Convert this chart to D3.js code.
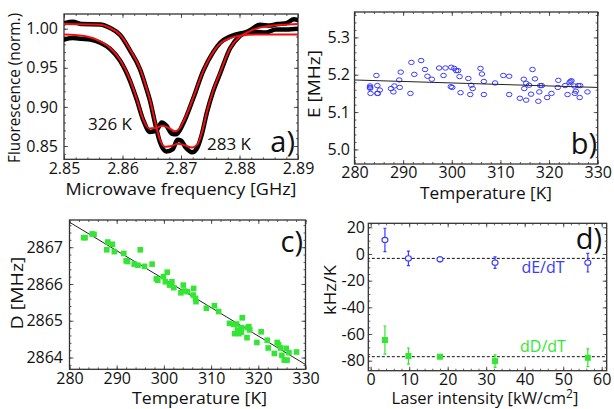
<!DOCTYPE html>
<html>
<head>
<meta charset="utf-8">
<script src="https://cdn.jsdelivr.net/npm/d3@7"></script>
<style>
body { margin: 0; background: #fff; }
svg text { font-family: "Open Sans", sans-serif; fill: #111; }
</style>
</head>
<body>
<script>
// a) ODMR spectra, [frequency GHz, normalised fluorescence]
const data283 = [[2.850,1.007],[2.8515,1.009],[2.853,1.006],[2.8562,1.0055],[2.8579,1.001],[2.8596,0.992],[2.8613,0.972],[2.8630,0.948],[2.8641,0.923],[2.8647,0.908],[2.8656,0.878],[2.8664,0.855],[2.8675,0.843],[2.8686,0.846],[2.8694,0.858],[2.8700,0.857],[2.8708,0.848],[2.8719,0.842],[2.8728,0.848],[2.8736,0.866],[2.8744,0.892],[2.8755,0.920],[2.8767,0.943],[2.8784,0.975],[2.8801,0.991],[2.8818,0.998],[2.8835,1.005],[2.8852,1.004],[2.8865,1.006],[2.8880,1.007],[2.8893,1.012],[2.890,1.011]];
const fit283 = [[2.850,1.006],[2.8562,1.0051],[2.8579,1.0009],[2.8596,0.9923],[2.8613,0.9731],[2.8630,0.949],[2.8641,0.924],[2.8647,0.909],[2.8656,0.880],[2.8664,0.858],[2.8673,0.849],[2.8684,0.850],[2.8695,0.853],[2.8706,0.851],[2.8719,0.848],[2.8728,0.852],[2.8736,0.868],[2.8744,0.893],[2.8755,0.921],[2.8767,0.944],[2.8784,0.975],[2.8801,0.990],[2.8818,0.997],[2.8847,1.003],[2.890,1.006]];
const data326 = [[2.850,0.986],[2.8515,0.988],[2.853,0.987],[2.8545,0.986],[2.8562,0.982],[2.8579,0.974],[2.8596,0.959],[2.8613,0.933],[2.8624,0.910],[2.8636,0.882],[2.8647,0.868],[2.8658,0.870],[2.8667,0.880],[2.8675,0.876],[2.8684,0.866],[2.8692,0.865],[2.8704,0.879],[2.8721,0.911],[2.8738,0.946],[2.8755,0.970],[2.8767,0.982],[2.8784,0.990],[2.8801,0.994],[2.8825,0.996],[2.8845,0.995],[2.8862,0.999],[2.8880,0.999],[2.890,1.000]];
const fit326 = [[2.850,0.9925],[2.8539,0.990],[2.8562,0.9838],[2.8579,0.9752],[2.8596,0.960],[2.8613,0.9346],[2.8624,0.911],[2.8636,0.883],[2.8645,0.8725],[2.8657,0.873],[2.8668,0.876],[2.8679,0.873],[2.8690,0.869],[2.8697,0.872],[2.8704,0.881],[2.8721,0.912],[2.8738,0.946],[2.8755,0.970],[2.8767,0.981],[2.8784,0.988],[2.8801,0.991],[2.883,0.9925],[2.890,0.9925]];

// b) E splitting vs temperature
const tempE = [283.2,283.2,283.3,283.2,284.5,284.7,284.7,284.8,285.2,287.5,288.0,288.2,289.2,289.3,289.5,291.5,291.7,292.3,293.7,294.5,295.0,295.9,297.4,298.3,298.7,299.9,299.8,300.1,300.5,300.9,301.3,301.6,301.8,303.4,303.8,304.0,304.3,305.9,306.2,306.6,306.6,308.9,310.6,311.8,311.8,314.0,314.8,314.9,315.3,315.3,315.9,316.3,316.6,317.1,317.8,318.2,318.5,318.0,319.6,320.5,321.9,321.8,323.3,323.8,324.2,324.4,324.6,325.2,325.3,325.5,326.0,326.4,326.3,327.9];
const valE = [5.166,5.170,5.150,5.164,5.198,5.171,5.150,5.150,5.159,5.163,5.154,5.170,5.186,5.166,5.207,5.150,5.233,5.201,5.238,5.214,5.196,5.188,5.218,5.198,5.218,5.220,5.168,5.166,5.217,5.211,5.211,5.195,5.152,5.190,5.147,5.172,5.163,5.217,5.202,5.182,5.147,5.178,5.198,5.196,5.147,5.137,5.188,5.163,5.132,5.177,5.172,5.148,5.214,5.189,5.129,5.171,5.171,5.154,5.139,5.150,5.185,5.166,5.171,5.147,5.179,5.182,5.184,5.170,5.150,5.156,5.171,5.171,5.139,5.154];
const fitE = [[280,5.186],[330,5.166]];

// c) D splitting vs temperature
const tempD = [283.0,283.3,284.8,285.2,288.1,287.9,289.1,289.5,291.5,292.0,292.3,293.7,294.5,295.0,295.9,297.5,298.4,298.7,299.9,300.3,300.7,301.2,301.7,302.1,303.6,304.1,304.3,305.0,306.2,306.3,306.7,306.8,309.0,310.7,311.6,313.9,314.8,315.0,315.4,315.6,315.9,316.4,316.6,316.5,317.6,317.8,318.0,318.2,320.6,319.7,321.9,322.1,324.0,323.4,324.3,324.7,325.0,325.5,326.1,325.9,326.5,328.1];
const valD = [2867.26,2867.26,2867.36,2867.35,2867.14,2866.93,2867.08,2866.88,2866.83,2866.63,2866.61,2866.54,2866.51,2866.93,2866.48,2866.54,2866.14,2866.10,2866.20,2866.06,2866.32,2865.97,2866.06,2865.90,2865.76,2865.97,2865.81,2865.79,2865.70,2865.88,2865.61,2865.52,2865.34,2865.41,2865.25,2864.93,2864.90,2864.65,2864.91,2864.75,2864.65,2864.69,2865.08,2864.81,2864.54,2864.81,2864.84,2864.75,2864.70,2864.41,2864.47,2864.26,2864.41,2864.11,2864.35,2864.26,2864.06,2863.93,2863.93,2864.25,2864.13,2864.15];
const fitD = [[280,2867.68],[330,2863.81]];

// d) slopes vs laser intensity
const intensity = [3.7, 9.8, 18.0, 32.3, 56.4];
const dEdT = [10.5, -3.3, -4.0, -6.5, -6.5];
const dEdTerr = [8.8, 5.5, 1.8, 4.3, 7.0];
const dDdT = [-64.5, -76.5, -77.0, -80.3, -77.8];
const dDdTerr = [10.5, 6.0, 1.5, 4.7, 6.6];
const meanE = -3.3, meanD = -77;

const blue = "#3a3aff", green = "#33e633";

const svg = d3.select("body").append("svg")
    .attr("width", 614)
    .attr("height", 409);

const steps = (lo, hi, s) => d3.range(Math.round((hi - lo) / s) + 1).map(i => +(lo + i * s).toFixed(6));

// frame with inward ticks on all four sides, labels bottom + left
function panel(box, xd, yd, o) {
  const x = d3.scaleLinear().domain(xd).range([box.l, box.r]);
  const y = d3.scaleLinear().domain(yd).range([box.b, box.t]);
  const g = svg.append("g");
  const ax = (gen, tr) => g.append("g").attr("transform", tr).call(gen)
      .call(s => s.select(".domain").remove());
  const fmt = o.fmt || (d => String(d));
  ax(d3.axisBottom(x).tickValues(o.xMaj).tickSize(-4).tickPadding(3).tickFormat(o.xFmt || fmt), `translate(0,${box.b})`);
  ax(d3.axisBottom(x).tickValues(o.xMin).tickSize(-2).tickFormat(""), `translate(0,${box.b})`);
  ax(d3.axisTop(x).tickValues(o.xMaj).tickSize(-4).tickFormat(""), `translate(0,${box.t})`);
  ax(d3.axisTop(x).tickValues(o.xMin).tickSize(-2).tickFormat(""), `translate(0,${box.t})`);
  ax(d3.axisLeft(y).tickValues(o.yMaj).tickSize(-4).tickPadding(o.yPad).tickFormat(o.yFmt || fmt), `translate(${box.l},0)`);
  ax(d3.axisLeft(y).tickValues(o.yMin).tickSize(-2).tickFormat(""), `translate(${box.l},0)`);
  ax(d3.axisRight(y).tickValues(o.yMaj).tickSize(-4).tickFormat(""), `translate(${box.r},0)`);
  ax(d3.axisRight(y).tickValues(o.yMin).tickSize(-2).tickFormat(""), `translate(${box.r},0)`);
  g.selectAll(".tick line").attr("stroke", "#333").attr("stroke-width", 0.8);
  g.selectAll(".tick text").attr("font-family", null).attr("font-size", 16).style("fill", "#111");
  g.append("rect")
      .attr("x", box.l).attr("y", box.t)
      .attr("width", box.r - box.l).attr("height", box.b - box.t)
      .attr("fill", "none").attr("stroke", "#333").attr("stroke-width", 1.3);
  const id = "clip" + Math.random().toString(36).slice(2);
  svg.append("clipPath").attr("id", id).append("rect")
      .attr("x", box.l).attr("y", box.t)
      .attr("width", box.r - box.l).attr("height", box.b - box.t);
  const plot = svg.append("g").attr("clip-path", `url(#${id})`);
  // axis titles
  if (o.xTitle) {
    svg.append("text").attr("x", o.xt[0]).attr("y", o.xt[1])
        .attr("text-anchor", "middle").attr("font-size", 16.5)
        .attr("textLength", o.xt[2]).attr("lengthAdjust", "spacingAndGlyphs")
        .text(o.xTitle);
  }
  svg.append("text").attr("transform", `translate(${o.yt[0]},${o.yt[1]}) rotate(-90)`)
      .attr("text-anchor", "middle").attr("font-size", 16.5)
      .attr("textLength", o.yt[2]).attr("lengthAdjust", "spacingAndGlyphs")
      .text(o.yTitle);
  svg.append("text").attr("x", o.tag[0]).attr("y", o.tag[1])
      .attr("text-anchor", "end").attr("font-size", 29)
      .text(o.tagText);
  return {x, y, plot};
}

// ---------- a)
const A = panel({l: 64, r: 298, t: 14, b: 159.3}, [2.85, 2.89], [0.833, 1.0188], {
  xMaj: steps(2.85, 2.89, 0.01), xMin: steps(2.85, 2.89, 0.002), xFmt: d3.format(".2f"),
  yMaj: [0.85, 0.90, 0.95, 1.00], yMin: steps(0.84, 1.01, 0.01), yFmt: d3.format(".2f"), yPad: 6,
  xTitle: "Microwave frequency [GHz]", xt: [181, 195, 231],
  yTitle: "Fluorescence (norm.)", yt: [19.5, 88, 150],
  tagText: "a)", tag: [295, 152]
});
const lineA = d3.line().x(d => A.x(d[0])).y(d => A.y(d[1])).curve(d3.curveMonotoneX);
[data283, data326].forEach(d => {
  A.plot.append("path").datum(d).attr("d", lineA)
      .attr("fill", "none").attr("stroke", "#000").attr("stroke-width", 4.5)
      .attr("stroke-linejoin", "round").attr("stroke-linecap", "round");
});
[fit283, fit326].forEach(d => {
  A.plot.append("path").datum(d).attr("d", lineA)
      .attr("fill", "none").attr("stroke", "#ee1010").attr("stroke-width", 2);
});
svg.append("text").attr("x", 88).attr("y", 130).attr("font-size", 17).text("326 K");
svg.append("text").attr("x", 207).attr("y", 150).attr("font-size", 17).text("283 K");

// ---------- b)
const B = panel({l: 354.5, r: 597.7, t: 12, b: 164}, [280, 330], [4.961, 5.368], {
  xMaj: steps(280, 330, 10), xMin: steps(280, 330, 2),
  yMaj: [5.0, 5.1, 5.2, 5.3], yMin: steps(4.98, 5.36, 0.02), yFmt: d3.format(".1f"), yPad: 4.5,
  xTitle: "Temperature [K]", xt: [486, 199, 132],
  yTitle: "E [MHz]", yt: [320, 84, 68],
  tagText: "b)", tag: [597, 154]
});
B.plot.selectAll("ellipse").data(tempE).enter().append("ellipse")
    .attr("cx", d => B.x(d))
    .attr("cy", (d, i) => B.y(valE[i]))
    .attr("rx", 2.8).attr("ry", 2.2)
    .attr("fill", "none").attr("stroke", blue).attr("stroke-width", 1);
B.plot.append("path").datum(fitE)
    .attr("d", d3.line().x(d => B.x(d[0])).y(d => B.y(d[1])))
    .attr("stroke", "#222").attr("stroke-width", 1).attr("fill", "none");

// ---------- c)
const C = panel({l: 69.5, r: 305.5, t: 220, b: 369.3}, [280, 330], [2863.68, 2867.74], {
  xMaj: steps(280, 330, 10), xMin: steps(280, 330, 2),
  yMaj: [2864, 2865, 2866, 2867], yMin: steps(2863.8, 2867.6, 0.2), yPad: 6.5,
  xTitle: "Temperature [K]", xt: [199.5, 404, 135],
  yTitle: "D [MHz]", yt: [23, 293, 73],
  tagText: "c)", tag: [303, 252]
});
C.plot.append("path").datum(fitD)
    .attr("d", d3.line().x(d => C.x(d[0])).y(d => C.y(d[1])))
    .attr("stroke", "#222").attr("stroke-width", 1).attr("fill", "none");
C.plot.selectAll("rect.pt").data(tempD).enter().append("rect")
    .attr("class", "pt")
    .attr("x", d => C.x(d) - 2.8)
    .attr("y", (d, i) => C.y(valD[i]) - 2.8)
    .attr("width", 5.6).attr("height", 5.6)
    .attr("fill", green);

// ---------- d)
const D = panel({l: 368.3, r: 606.7, t: 223.3, b: 370.7}, [-0.62, 61.3], [-87.5, 23], {
  xMaj: steps(0, 60, 10), xMin: steps(0, 60, 2),
  yMaj: steps(-80, 20, 20), yMin: steps(-85, 20, 5), yPad: 3.3,
  xTitle: "", xt: [485, 404, 206],
  yTitle: "kHz/K", yt: [336, 290, 50],
  tagText: "d)", tag: [602, 249]
});
// x title with superscript
const dTitle = svg.append("text").attr("x", 485).attr("y", 404)
    .attr("text-anchor", "middle").attr("font-size", 16.5);
dTitle.append("tspan").text("Laser intensity [kW/cm");
dTitle.append("tspan").attr("font-size", 12).attr("dy", -6).text("2");
dTitle.append("tspan").attr("dy", 6).text("]");

[meanE, meanD].forEach(m => {
  D.plot.append("line")
      .attr("x1", D.x(-1)).attr("x2", D.x(62))
      .attr("y1", D.y(m)).attr("y2", D.y(m))
      .attr("stroke", "#111").attr("stroke-width", 1).attr("stroke-dasharray", "3,2");
});
function errBars(vals, errs, col) {
  const g = D.plot.append("g").attr("stroke", col).attr("stroke-width", 1.2);
  intensity.forEach((x, i) => {
    const cx = D.x(x), y0 = D.y(vals[i] - errs[i]), y1 = D.y(vals[i] + errs[i]);
    g.append("line").attr("x1", cx).attr("x2", cx).attr("y1", y0).attr("y2", y1);
    g.append("line").attr("x1", cx - 1.5).attr("x2", cx + 1.5).attr("y1", y0).attr("y2", y0);
    g.append("line").attr("x1", cx - 1.5).attr("x2", cx + 1.5).attr("y1", y1).attr("y2", y1);
  });
}
errBars(dEdT, dEdTerr, blue);
errBars(dDdT, dDdTerr, green);
D.plot.selectAll("ellipse").data(intensity).enter().append("ellipse")
    .attr("cx", d => D.x(d))
    .attr("cy", (d, i) => D.y(dEdT[i]))
    .attr("rx", 3).attr("ry", 2.6)
    .attr("fill", "#fff").attr("stroke", blue).attr("stroke-width", 1.1);
D.plot.selectAll("rect.pt").data(intensity).enter().append("rect")
    .attr("class", "pt")
    .attr("x", d => D.x(d) - 3)
    .attr("y", (d, i) => D.y(dDdT[i]) - 3)
    .attr("width", 6).attr("height", 6)
    .attr("fill", green);
svg.append("text").attr("x", 543).attr("y", 273).attr("text-anchor", "middle")
    .attr("font-size", 16).style("fill", blue).text("dE/dT");
svg.append("text").attr("x", 543).attr("y", 352).attr("text-anchor", "middle")
    .attr("font-size", 16).style("fill", green).text("dD/dT");
</script>
</body>
</html>
